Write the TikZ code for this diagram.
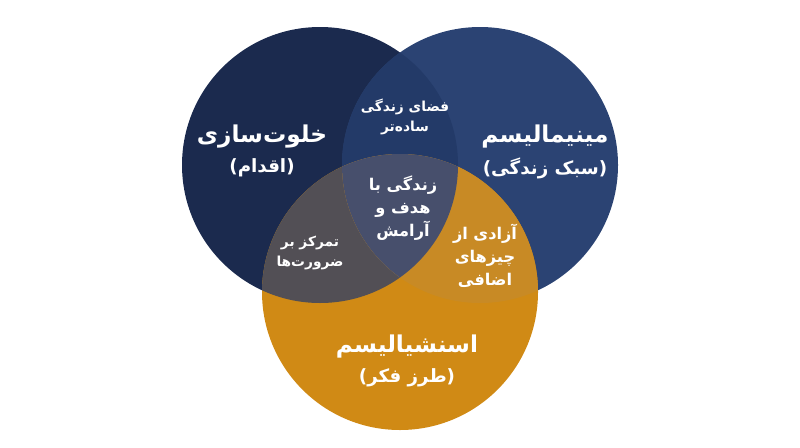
\documentclass[tikz,border=0pt]{standalone}
\usepackage{fontspec}
\newfontfamily\farsi[Script=Arabic]{DejaVu Sans}
\TeXXeTstate=1

\definecolor{khalvatblue}{HTML}{1B2A4E}
\definecolor{minimalblue}{HTML}{2B4373}
\definecolor{essentialgold}{HTML}{D08A15}
\definecolor{spaceblue}{HTML}{233A68}
\definecolor{focusgray}{HTML}{524F55}
\definecolor{freegold}{HTML}{C88A25}
\definecolor{calmgray}{HTML}{474F6C}

\tikzset{
  bigtitle/.style={text=white, align=center, font=\farsi\bfseries\fontsize{16.5}{22}\selectfont},
  subtitle/.style={text=white, align=center, font=\farsi\bfseries\fontsize{13}{18}\selectfont},
  smalltext/.style={text=white, align=center, font=\farsi\bfseries\fontsize{9.8}{14.5}\selectfont},
  midtext/.style={text=white, align=center, font=\farsi\bfseries\fontsize{11.5}{16.5}\selectfont}
}

\begin{document}
\begin{tikzpicture}[x=0.025cm, y=-0.025cm]
\useasboundingbox (0,0) rectangle (800,447);

%cercles
\fill[khalvatblue] (320,165) circle (138);
\fill[minimalblue] (480,165) circle (138);
\fill[essentialgold] (400,292) circle (138);

%intersections
\begin{scope}
  \clip (320,165) circle (138);
  \fill[spaceblue] (480,165) circle (138);
  \fill[focusgray] (400,292) circle (138);
\end{scope}
\begin{scope}
  \clip (480,165) circle (138);
  \fill[freegold] (400,292) circle (138);
  \clip (400,292) circle (138);
  \fill[calmgray] (320,165) circle (138);
\end{scope}

%textes
\node[bigtitle] (khalvat) at (262,137) {\beginR خلوت‌سازی\endR};
\node[subtitle] (khalvatsub) at (262,168) {\beginR(اقدام)\endR};
\node[bigtitle] (minimal) at (545,137) {\beginR مینیمالیسم\endR};
\node[subtitle] (minimalsub) at (545,168) {\beginR(سبک زندگی)\endR};
\node[bigtitle] (essential) at (407,347) {\beginR اسنشیالیسم\endR};
\node[subtitle] (essentialsub) at (407,378) {\beginR(طرز فکر)\endR};

\node[smalltext] (space) at (405,117) {\beginR فضای زندگی\endR\\\beginR ساده‌تر\endR};
\node[smalltext] (focus) at (310,253) {\beginR تمرکز بر\endR\\\beginR ضرورت‌ها\endR};
\node[midtext] (free) at (485,256) {\beginR آزادی از\endR\\\beginR چیزهای\endR\\\beginR اضافی\endR};
\node[midtext] (calm) at (403,208) {\beginR زندگی با\endR\\\beginR هدف و\endR\\\beginR آرامش\endR};

\end{tikzpicture}
\end{document}
